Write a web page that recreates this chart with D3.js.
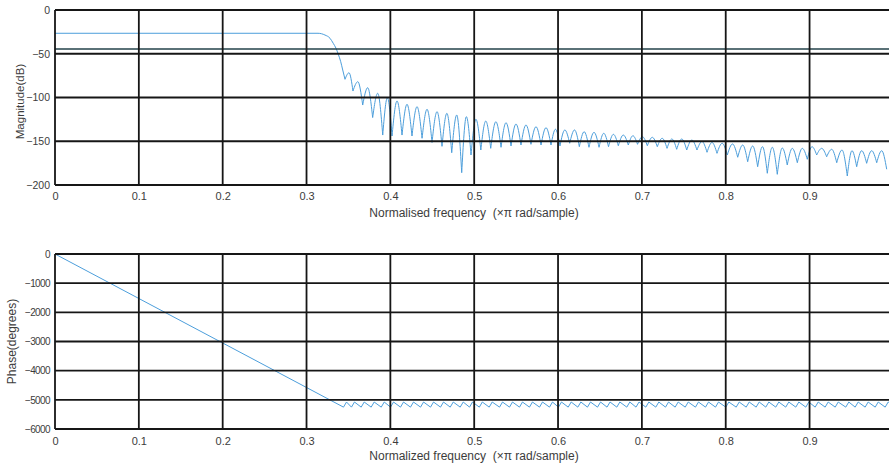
<!DOCTYPE html>
<html><head><meta charset="utf-8">
<script src="https://cdn.jsdelivr.net/npm/d3@7"></script>
<style>
body{margin:0;background:#fff;}
svg{display:block;font-family:"Liberation Sans",Arial,sans-serif;}
text{white-space:pre;}
</style></head><body>
<svg id="chart" width="889" height="468"></svg>
<script>
// ---------- data ----------
const freqTicks = [0, 0.1, 0.2, 0.3, 0.4, 0.5, 0.6, 0.7, 0.8, 0.9];
const freqTickLabels = ["0", "0.1", "0.2", "0.3", "0.4", "0.5", "0.6", "0.7", "0.8", "0.9"];
const magTicks = [0, -50, -100, -150, -200];
const phaseTicks = [0, -1000, -2000, -3000, -4000, -5000, -6000];

// passband + transition band of the magnitude response (dB)
const passbandFreq = [0, 0.3137, 0.3220, 0.3280, 0.3319, 0.3352, 0.3379, 0.3408, 0.3432];
const passbandDb   = [-26.6, -26.6, -28.6, -32.3, -38.1, -43.8, -50.6, -59.1, -68.6];

// stopband nulls (frequency, depth) and the lobe peaks between consecutive nulls
const nullFreq = [0.3459, 0.3554, 0.3670, 0.3789, 0.3909, 0.4020, 0.4139, 0.4258, 0.4378, 0.4497,
  0.4616, 0.4732, 0.4851, 0.4962, 0.5079, 0.5197, 0.5320, 0.5439, 0.5558, 0.5677,
  0.5797, 0.5916, 0.6023, 0.6139, 0.6254, 0.6369, 0.6489, 0.6602, 0.6719, 0.6838,
  0.6948, 0.7065, 0.7184, 0.7300, 0.7415, 0.7535, 0.7657, 0.7777, 0.7896, 0.8019,
  0.8143, 0.8262, 0.8381, 0.8496, 0.8615, 0.8734, 0.8854, 0.8973, 0.9085, 0.9204,
  0.9324, 0.9450, 0.9562, 0.9681, 0.9801, 0.9920];
const nullDb = [-79.2, -92.6, -108.6, -122.9, -142.9, -144.0, -142.9, -144.0, -146.6, -151.4,
  -155.8, -163.1, -185.9, -165.7, -160.0, -158.1, -156.9, -155.4, -154.3, -153.5,
  -154.3, -154.3, -155.4, -152.3, -156.2, -156.9, -156.9, -156.2, -155.1, -154.3,
  -153.5, -155.1, -156.2, -158.1, -159.2, -160.0, -160.0, -162.6, -163.8, -165.7,
  -168.3, -173.4, -179.1, -186.6, -187.8, -177.1, -174.5, -170.6, -165.7, -167.7,
  -174.5, -189.7, -179.1, -175.2, -174.5, -182.0];
const lobePeakDb = [-71.7, -81.9, -88.8, -95.2, -100.2, -104.0, -107.8, -110.5, -113.5, -116.2,
  -118.1, -120.0, -121.9, -124.9, -126.9, -127.7, -128.8, -130.3, -131.4, -133.4,
  -134.5, -136.3, -137.1, -137.1, -139.1, -139.8, -140.9, -142.1, -142.9, -143.7,
  -144.8, -145.5, -146.6, -147.4, -147.4, -148.6, -150.3, -151.4, -152.3, -153.1,
  -154.3, -155.4, -156.2, -156.9, -157.7, -158.1, -158.1, -156.2, -158.1, -159.2,
  -160.0, -160.8, -160.8, -160.8, -160.8];

const markerDb = -44.5;          // dark horizontal reference line in the magnitude panel

// phase: linear from 0 deg, then a sawtooth (jumps at every stopband null)
const phaseStartDeg = 0;
const phaseTroughDeg = -5250;
const phaseCrestDeg = -5075;
const phaseEnd = [1.0, -5165];

// ---------- layout ----------
const svg = d3.select("#chart");
const X0 = 55, X1 = 893.4;
const panelTop = {y0: 10, y1: 185};
const panelBot = {y0: 254, y1: 429};
const lineColor = "#4c9edb";
const gridColor = "#161616";
const textColor = "#3c3c3c";

const x = d3.scaleLinear().domain([0, 1]).range([X0, X1]);
const yMag = d3.scaleLinear().domain([-200, 0]).range([panelTop.y1, panelTop.y0]);
const yPh = d3.scaleLinear().domain([-6000, 0]).range([panelBot.y1, panelBot.y0]);

const defs = svg.append("defs");
defs.append("clipPath").attr("id", "clipTop").append("rect")
  .attr("x", X0).attr("y", panelTop.y0 - 2).attr("width", 889 - X0).attr("height", panelTop.y1 - panelTop.y0 + 4);
defs.append("clipPath").attr("id", "clipBot").append("rect")
  .attr("x", X0).attr("y", panelBot.y0 - 2).attr("width", 889 - X0).attr("height", panelBot.y1 - panelBot.y0 + 4);

// ---------- magnitude panel ----------
const gTop = svg.append("g");
const magLine = d3.line().x(d => x(d[0])).y(d => yMag(d[1])).curve(d3.curveMonotoneX);

let magD = magLine(passbandFreq.map((f, i) => [f, passbandDb[i]]).concat([[nullFreq[0], nullDb[0]]]));
for (let i = 0; i < lobePeakDb.length; i++) {
  const seg = [[nullFreq[i], nullDb[i]],
               [(nullFreq[i] + nullFreq[i + 1]) / 2, lobePeakDb[i]],
               [nullFreq[i + 1], nullDb[i + 1]]];
  magD += magLine(seg);
}
gTop.append("path").attr("d", magD).attr("fill", "none")
  .attr("stroke", lineColor).attr("stroke-width", 1).attr("clip-path", "url(#clipTop)");

gTop.append("line").attr("x1", X0).attr("x2", 889)
  .attr("y1", yMag(markerDb)).attr("y2", yMag(markerDb))
  .attr("stroke", "#23424a").attr("stroke-width", 1.6);

function grid(g, yScale, ticks, y0, y1) {
  g.selectAll(".hg").data(ticks).enter().append("line")
    .attr("x1", X0).attr("x2", 889).attr("y1", d => yScale(d)).attr("y2", d => yScale(d))
    .attr("stroke", gridColor).attr("stroke-width", 1.8);
  g.selectAll(".vg").data(freqTicks).enter().append("line")
    .attr("x1", d => x(d)).attr("x2", d => x(d)).attr("y1", y0).attr("y2", y1)
    .attr("stroke", gridColor).attr("stroke-width", 1.8);
}
grid(gTop, yMag, magTicks, panelTop.y0, panelTop.y1);

function styleAxis(g, size, spacing) {
  g.select(".domain").remove();
  g.selectAll("text").attr("fill", textColor).style("font-size", size + "px")
    .style("letter-spacing", (spacing || 0) + "px")
    .style("font-family", '"Liberation Sans",Arial,sans-serif');
}
const axTopX = d3.axisBottom(x).tickValues(freqTicks).tickFormat((d, i) => freqTickLabels[i]).tickSize(0).tickPadding(7);
const axTopY = d3.axisLeft(yMag).tickValues(magTicks).tickFormat(d3.format("d")).tickSize(0).tickPadding(5);
svg.append("g").attr("transform", `translate(0,${panelTop.y1})`).call(axTopX).call(g => styleAxis(g, 11));
svg.append("g").attr("transform", `translate(${X0},0)`).call(axTopY).call(g => styleAxis(g, 10.5));

svg.append("text").attr("x", 474).attr("y", 216.5).attr("text-anchor", "middle")
  .attr("fill", textColor).style("font-size", "12px")
  .text("Normalised frequency  (\u00D7\u03C0 rad/sample)");
svg.append("text").attr("transform", `translate(24,${(panelTop.y0 + panelTop.y1) / 2 + 4}) rotate(-90)`)
  .attr("text-anchor", "middle").attr("fill", textColor).style("font-size", "11.5px")
  .text("Magnitude(dB)");

// ---------- phase panel ----------
const gBot = svg.append("g");
const phLine = d3.line().x(d => x(d[0])).y(d => yPh(d[1]));
const halfRise = 0.0018;
const phPts = [[0, phaseStartDeg]];
nullFreq.forEach(f => { phPts.push([f - halfRise, phaseTroughDeg]); phPts.push([f + halfRise, phaseCrestDeg]); });
phPts.push(phaseEnd);
gBot.append("path").attr("d", phLine(phPts)).attr("fill", "none")
  .attr("stroke", lineColor).attr("stroke-width", 1).attr("clip-path", "url(#clipBot)");

grid(gBot, yPh, phaseTicks, panelBot.y0, panelBot.y1);

const axBotX = d3.axisBottom(x).tickValues(freqTicks).tickFormat((d, i) => freqTickLabels[i]).tickSize(0).tickPadding(8);
const axBotY = d3.axisLeft(yPh).tickValues(phaseTicks).tickFormat(d3.format("d")).tickSize(0).tickPadding(5);
svg.append("g").attr("transform", `translate(0,${panelBot.y1})`).call(axBotX).call(g => styleAxis(g, 11));
svg.append("g").attr("transform", `translate(${X0},0)`).call(axBotY).call(g => styleAxis(g, 10, -0.6));

svg.append("text").attr("x", 474).attr("y", 460).attr("text-anchor", "middle")
  .attr("fill", textColor).style("font-size", "12px")
  .text("Normalized frequency  (\u00D7\u03C0 rad/sample)");
svg.append("text").attr("transform", `translate(16,${(panelBot.y0 + panelBot.y1) / 2}) rotate(-90)`)
  .attr("text-anchor", "middle").attr("fill", textColor).style("font-size", "12px")
  .text("Phase(degrees)");
</script>
</body></html>
